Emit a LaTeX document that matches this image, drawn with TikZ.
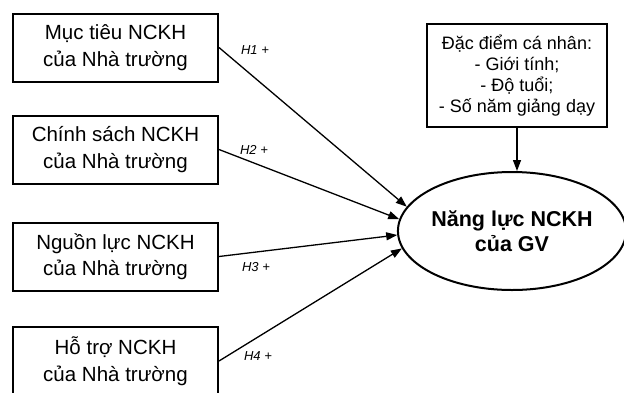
\documentclass[tikz,border=0pt]{standalone}
\usepackage{fontspec}
\setmainfont{Liberation Sans}
\usetikzlibrary{arrows.meta,shapes.geometric}
\tikzset{
  factor/.style={draw, line width=2pt, minimum width=205pt, minimum height=68pt, inner sep=0pt,
    align=center, font=\fontsize{20.5}{26.5}\selectfont},
  infobox/.style={draw, line width=2pt, minimum width=180pt, minimum height=103pt, inner sep=0pt,
    align=center, font=\fontsize{18}{21}\selectfont},
  target/.style={draw, ellipse, line width=2pt, minimum width=222pt, minimum height=118pt, inner sep=0pt,
    align=center, font=\bfseries\fontsize{21.5}{25}\selectfont},
  link/.style={line width=1.3pt, -{Triangle[length=11pt,width=8pt]}},
  hyp/.style={font=\itshape\fontsize{13}{15}\selectfont, inner sep=0pt}
}
\begin{document}
\begin{tikzpicture}[x=1pt,y=1pt]
\useasboundingbox (0,0) rectangle (624,-392);
\begin{scope}
\clip (0,0) rectangle (624,-392);
\node[factor] (b1) at (115.5,-47.5) {Mục tiêu NCKH\\của Nhà trường};
\node[factor] (b2) at (115.5,-149.5) {Chính sách NCKH\\của Nhà trường};
\node[factor] (b3) at (115.5,-256.5) {Nguồn lực NCKH\\của Nhà trường};
\node[factor] (b4) at (115.5,-361) {Hỗ trợ NCKH\\của Nhà trường};
\node[infobox] (info) at (517,-75.5) {Đặc điểm cá nhân:\\- Giới tính;\\- Độ tuổi;\\- Số năm giảng dạy};
\node[target] (e) at (512,-231) {Năng lực NCKH\\của GV};
\draw[link] (b1.east) -- (e.167);
\draw[link] (b2.east) -- (e.174);
\draw[link] (b3.east) -- (e.182);
\draw[link] (b4.east) -- (e.189);
\draw[link] (info.south) -- (e.north -| info.south);
\node[hyp] (h1) at (255,-50) {H1 +};
\node[hyp] (h2) at (254,-150) {H2 +};
\node[hyp] (h3) at (256,-267) {H3 +};
\node[hyp] (h4) at (258,-356) {H4 +};
\end{scope}
\end{tikzpicture}
\end{document}
